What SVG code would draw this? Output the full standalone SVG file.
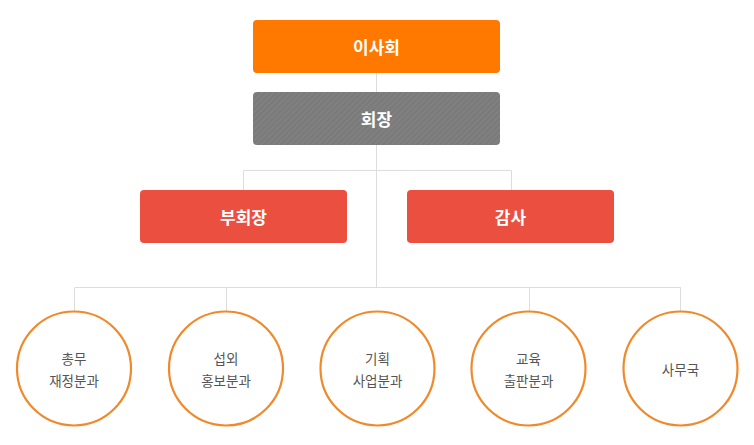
<svg xmlns="http://www.w3.org/2000/svg" width="754" height="445" viewBox="0 0 754 445">
<style>
.box-t{font-family:"Noto Sans CJK KR","Noto Sans",sans-serif;font-size:17px;font-weight:700;fill:#ffffff;text-anchor:middle}
.c-t{font-family:"Noto Sans CJK KR","Noto Sans",sans-serif;font-size:13.5px;fill:#555555;text-anchor:middle}
.circ{fill:#ffffff;stroke:#f0892a;stroke-width:2.2}
.conn{fill:none;stroke:#dddddd;stroke-width:1}
</style>
<defs>
<pattern id="tex" width="4" height="4" patternUnits="userSpaceOnUse" patternTransform="rotate(45)">
<rect width="4" height="4" fill="#808080"/>
<rect width="2" height="4" fill="#7a7a7a"/>
</pattern>
</defs>
<rect width="754" height="445" fill="#ffffff"/>
<g id="connectors">
<path class="conn" d="M376.5 73V92M376.5 145V287.5M243.5 190V170.5H511.5V190M74.5 311V287.5H680.5V311M226.5 287.5V311M529.5 287.5V311"/>
</g>
<g id="n-board">
<rect x="253" y="20" width="247" height="53" rx="4" fill="#ff7800"/>
<text class="box-t" x="376.5" y="53.5">이사회</text>
</g>
<g id="n-chair">
<rect x="253" y="92" width="247" height="53" rx="4" fill="url(#tex)"/>
<text class="box-t" x="376.5" y="125.5">회장</text>
</g>
<g id="n-vice">
<rect x="140" y="190" width="207" height="53" rx="4" fill="#eb4f3f"/>
<text class="box-t" x="243.5" y="223.5">부회장</text>
</g>
<g id="n-audit">
<rect x="407" y="190" width="207" height="53" rx="4" fill="#eb4f3f"/>
<text class="box-t" x="510.5" y="223.5">감사</text>
</g>
<g id="c1">
<circle class="circ" cx="74" cy="368.5" r="57"/>
<text class="c-t" x="74" y="364">총무</text>
<text class="c-t" x="74" y="386">재정분과</text>
</g>
<g id="c2">
<circle class="circ" cx="226" cy="368.5" r="57"/>
<text class="c-t" x="226" y="364">섭외</text>
<text class="c-t" x="226" y="386">홍보분과</text>
</g>
<g id="c3">
<circle class="circ" cx="377.5" cy="368.5" r="57"/>
<text class="c-t" x="377.5" y="364">기획</text>
<text class="c-t" x="377.5" y="386">사업분과</text>
</g>
<g id="c4">
<circle class="circ" cx="528.5" cy="368.5" r="57"/>
<text class="c-t" x="528.5" y="364">교육</text>
<text class="c-t" x="528.5" y="386">출판분과</text>
</g>
<g id="c5">
<circle class="circ" cx="680.5" cy="368.5" r="57"/>
<text class="c-t" x="680.5" y="375">사무국</text>
</g>
</svg>
